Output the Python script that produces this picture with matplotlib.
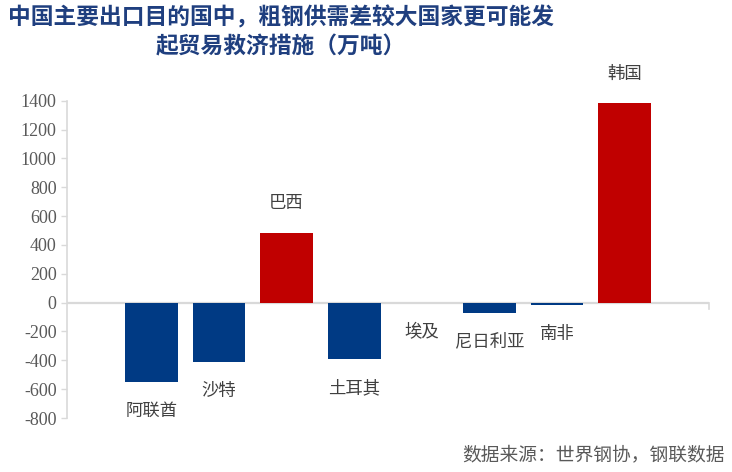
import matplotlib
matplotlib.use("Agg")
import matplotlib.pyplot as plt

plt.rcParams['font.family'] = ['Noto Sans CJK SC', 'DejaVu Sans']

# 粗钢供需差（万吨）
countries = ["阿联酋", "沙特", "巴西", "土耳其", "埃及", "尼日利亚", "南非", "韩国"]
values = [-547, -409, 485, -392, -2, -69, -18, 1384]
highlight = [False, False, True, False, False, False, False, True]
yticks = list(range(-800, 1401, 200))

BLUE = "#003A84"
RED = "#C00000"
GRAY = "#D9D9D9"

fig = plt.figure(figsize=(7.32, 4.72), dpi=100)
ax = fig.add_axes([0.0915, 0.1144, 0.8771, 0.6723])

xs = list(range(len(countries)))
colors = [RED if h else BLUE for h in highlight]
ax.bar(xs, values, width=0.78, color=colors, zorder=2)

# category labels sit next to the bar end
for x, v, name in zip(xs, values, countries):
    off = 21 if v > 0 else -21
    ax.annotate(name, (x, v), xytext=(0, off), textcoords="offset points",
                ha="center", va="center", fontsize=12.5, color="#404040")

ax.set_xlim(-1.25, 8.25)
ax.set_ylim(-800, 1400)
ax.set_yticks(yticks)
ax.set_yticklabels([str(t) for t in yticks], family="Liberation Serif",
                   fontsize=13, color="#595959")
ax.set_xticks([])
ax.tick_params(axis="y", direction="out", length=4.5, width=1, color=GRAY, pad=3)

for s in ["top", "right", "bottom"]:
    ax.spines[s].set_visible(False)
ax.spines["left"].set_color(GRAY)
ax.spines["left"].set_linewidth(1.2)
ax.axhline(0, color=GRAY, lw=1.6, zorder=1)
ax.plot([1, 1], [0.3636, 0.345], transform=ax.transAxes, color=GRAY, lw=1.2,
        clip_on=False)

fig.text(0.384, 0.963, "中国主要出口目的国中，粗钢供需差较大国家更可能发",
         ha="center", va="center", fontsize=16.4, fontweight="bold", color="#1F3F7F")
fig.text(0.384, 0.900, "起贸易救济措施（万吨）",
         ha="center", va="center", fontsize=16.4, fontweight="bold", color="#1F3F7F")
fig.text(0.99, 0.036, "数据来源：世界钢协，钢联数据", ha="right", va="center",
         fontsize=13.5, color="#595959")

fig.savefig("out.png", dpi=100)
